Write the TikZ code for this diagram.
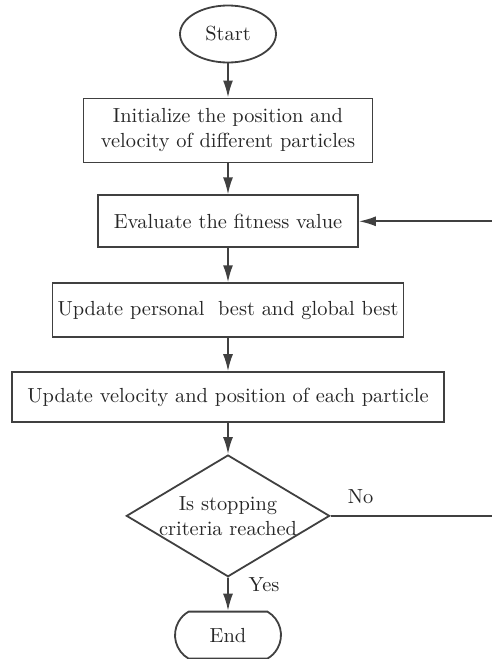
\documentclass[tikz,border=0pt]{standalone}
\usepackage{tikz}
\usetikzlibrary{arrows.meta,positioning,calc,shapes.geometric,shapes.misc}

\begin{document}
\begin{tikzpicture}[
	font=\fontsize{10.2}{12.5}\selectfont,
	every node/.style={text=black!85},
	line width=0.9pt, draw=black!75,
	term/.style={draw=black!75, ellipse, minimum width=48pt, minimum height=28.5pt, inner sep=0pt},
	endterm/.style={draw=black!75, rounded rectangle, rounded rectangle arc length=120, minimum width=53pt, minimum height=23.5pt, inner sep=0pt},
	proc/.style={draw=black!75, rectangle, align=center, inner sep=2pt},
	decision/.style={draw=black!75, diamond, aspect=1.67, align=center, inner sep=0pt, minimum width=101pt, minimum height=60.5pt},
	lbl/.style={inner sep=1pt},
	arr/.style={-{Latex[length=8.5pt,width=5pt]}, draw=black!75}
	]
	\useasboundingbox (0,0) rectangle (246pt,-329.5pt);
	
	\node[term] (start) at (114pt,-17pt) {Start};
	
	\node[proc, minimum width=144.5pt, minimum height=32pt, below=17.05pt of start] (init) {Initialize the position and\\velocity of different particles};
	
	\node[proc, minimum width=130pt, minimum height=26pt, below=15.55pt of init] (eval) {Evaluate the fitness value};
	
	\node[proc, minimum width=175.5pt, minimum height=27pt, below=17.05pt of eval] (best) {Update personal\ \ best and global best};
	
	\node[proc, minimum width=216pt, minimum height=25pt, below=16.55pt of best] (move) {Update velocity and position of each particle};
	
	\node[decision, below=15.55pt of move] (stop) {Is stopping\\criteria reached};
	
	\node[endterm, below=16.55pt of stop] (finish) {End};
	
	\draw[arr] (start) -- (init);
	\draw[arr] (init) -- (eval);
	\draw[arr] (eval) -- (best);
	\draw[arr] (best) -- (move);
	\draw[arr] (move) -- (stop);
	\draw[arr] (stop) -- (finish);
	
	% back to the fitness step when not finished
	\coordinate (loop) at ($(stop.east) + (83pt, 0)$);
	\draw[arr] (stop.east) -- (loop) |- (eval.east);
	
	\node[lbl] (no) at ($(stop.east) + (15pt, 9.5pt)$) {No};
	\node[lbl] (yes) at ($(stop.south) + (18pt, -3.5pt)$) {Yes};
	
\end{tikzpicture}
\end{document}
